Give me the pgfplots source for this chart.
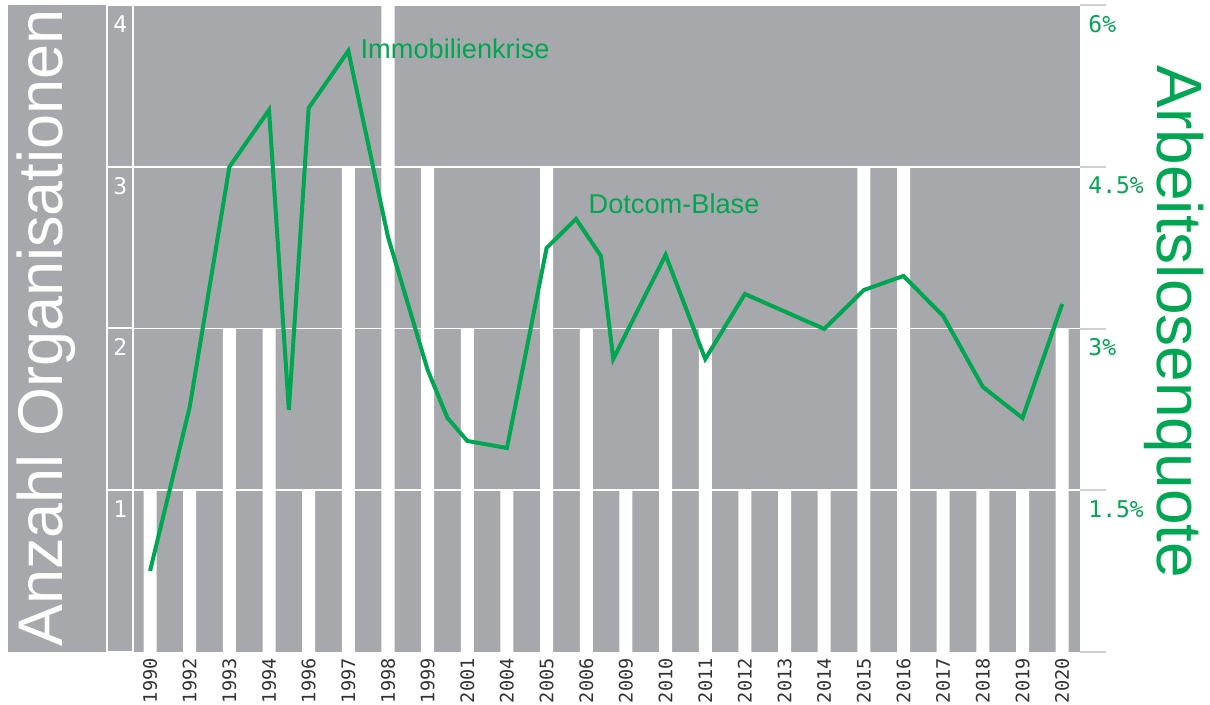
\documentclass[border=0pt]{standalone}
\usepackage{pgfplots}
\pgfplotsset{compat=1.18}
\usepackage{fontspec}
\setmainfont{Liberation Sans}
\newfontfamily\monofont{DejaVu Sans Mono}
\definecolor{bggray}{HTML}{A7A8AC}
\definecolor{lgreen}{HTML}{00A651}
\definecolor{tickgray}{HTML}{D0D0D0}
\definecolor{labeldark}{HTML}{333333}
\begin{document}
\begin{tikzpicture}
\fill[bggray] (4pt,-2.5pt) rectangle (53.5pt,-326pt);
\fill[bggray] (53.5pt,-2.5pt) rectangle (66.5pt,-326pt);
\node[rotate=90, anchor=base, text=white, inner sep=0pt, font=\fontsize{31.5pt}{31.5pt}\selectfont] at (31pt,-164pt) {Anzahl Organisationen};
\begin{axis}[
  at={(66.5pt,-326pt)}, anchor=south west,
  scale only axis, width=473.5pt, height=323.5pt,
  xmin=-0.43, xmax=23.45, ymin=0, ymax=4,
  axis background/.style={fill=bggray},
  axis line style={draw=none},
  ybar, bar width=0.328,
  xtick={0,...,23},
  xticklabels={1990,1992,1993,1994,1996,1997,1998,1999,2001,2004,2005,2006,2009,2010,2011,2012,2013,2014,2015,2016,2017,2018,2019,2020},
  x tick label style={rotate=90, anchor=east, inner xsep=3pt, inner ysep=0pt, text=labeldark, font=\monofont\fontsize{9.3pt}{9.3pt}\selectfont},
  ytick={1,2,3,4}, yticklabels={1,2,3,4},
  y tick label style={anchor=north west, inner sep=0pt, xshift=-10pt, yshift=-5pt, text=white, font=\monofont\fontsize{11.5pt}{11.5pt}\selectfont},
  major tick length=0pt,
  ymajorgrids, grid style={white, line width=0.9pt},
  clip=false,
]
\addplot[fill=white, draw=none] coordinates {
(0,1) (1,1) (2,2) (3,2) (4,1) (5,3) (6,4) (7,3) (8,2) (9,1) (10,3) (11,2)
(12,1) (13,2) (14,2) (15,1) (16,1) (17,1) (18,3) (19,3) (20,1) (21,1) (22,1) (23,2)};
\end{axis}
\begin{axis}[
  at={(66.5pt,-326pt)}, anchor=south west,
  scale only axis, width=473.5pt, height=323.5pt,
  xmin=-0.43, xmax=23.45, ymin=0, ymax=6,
  axis x line=none, axis y line*=right,
  axis line style={draw=none},
  ytick={0,1.5,3,4.5,6}, yticklabels={,1.5\%,3\%,4.5\%,6\%},
  tick align=outside, major tick length=13pt,
  y tick style={draw=tickgray, line width=1pt},
  y tick label style={anchor=north west, inner sep=0pt, xshift=-9pt, yshift=-5pt, text=lgreen, font=\monofont\fontsize{11.5pt}{11.5pt}\selectfont},
  clip=false,
]
\addplot[lgreen, line width=2pt] coordinates {
(0,0.751) (1,2.272) (2,4.498) (3,5.026) (3.5,2.244) (4,5.045) (5,5.574) (6,3.849)
(7,2.615) (7.5,2.170) (8,1.957) (9,1.892) (10,3.747) (10.74,4.016) (11.37,3.672)
(11.68,2.717) (13,3.682) (14,2.717) (15,3.320) (17,2.996) (18,3.357) (19,3.487)
(20,3.116) (21,2.458) (22,2.170) (23,3.227)};
\node[anchor=base west, inner sep=0pt, text=lgreen, font=\fontsize{13.6pt}{13.6pt}\selectfont] at (axis cs:5.30,5.50) {Immobilienkrise};
\node[anchor=base west, inner sep=0pt, text=lgreen, font=\fontsize{13.6pt}{13.6pt}\selectfont] at (axis cs:11.05,4.062) {Dotcom-Blase};
\end{axis}
\draw[white, line width=0.9pt] (53.5pt,-2.5pt) -- (53.5pt,-326pt);
\draw[white, line width=0.9pt] (66.5pt,-2.5pt) -- (66.5pt,-326pt);
\foreach \yy in {-2.5,-83.5,-164,-245,-326} {\draw[white, line width=0.9pt] (53.5pt,\yy pt) -- (66.5pt,\yy pt);}
\node[rotate=-90, anchor=base, text=lgreen, inner sep=0pt, font=\fontsize{32pt}{32pt}\selectfont] at (578.5pt,-161pt) {Arbeitslosenquote};
\pgfresetboundingbox
\useasboundingbox (0,0) rectangle (605pt,-352.5pt);
\end{tikzpicture}
\end{document}
